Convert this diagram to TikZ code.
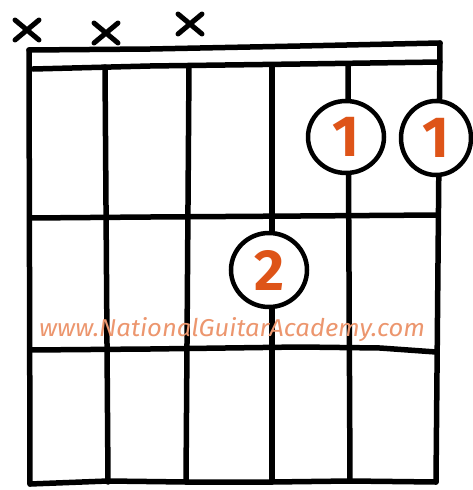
\documentclass[tikz,border=0pt]{standalone}
\usepackage{fontspec}
\usetikzlibrary{shapes.geometric}
\setmainfont{Fira Sans}
\definecolor{fing}{RGB}{222,84,24}
\definecolor{wm}{RGB}{236,150,110}
\begin{document}
\begin{tikzpicture}[x=1pt,y=-1pt,
  ink/.style={line width=5.5pt,line cap=round,line join=round,black},
  finger/.style={ellipse,draw=black,line width=4.5pt,fill=white,inner sep=0pt,
    text=fing,font=\fontsize{58}{58}\selectfont\bfseries},
  mute/.style={line width=5pt,line cap=round,black}]
\useasboundingbox (0,0) rectangle (472,490);
% string coordinates
\coordinate (n1) at (29,50);  \coordinate (b1) at (30,484);
\coordinate (n2) at (105,67); \coordinate (b2) at (108,482);
\coordinate (n3) at (189,66); \coordinate (b3) at (186,482);
\coordinate (n4) at (272,65); \coordinate (b4) at (272,482);
\coordinate (n5) at (348,64); \coordinate (b5) at (350,481);
\coordinate (n6) at (440,43); \coordinate (b6) at (436,482);
% nut
\draw[ink] (n1) -- (150,49) -- (300,46) -- (n6);
\draw[ink] (33,69) -- (150,66) -- (300,64) -- (440,62);
% frets
\draw[ink] (30,218) -- (150,217) -- (300,216) -- (438,215);
\draw[ink] (30,350) -- (150,349) -- (300,347) -- (380,348) -- (436,352);
\draw[ink] (b1) -- (108,481) -- (b3) -- (b4) -- (b5) -- (b6);
% strings
\draw[ink] (n1) -- (b1);
\draw[ink] (n2) -- (b2);
\draw[ink] (n3) -- (b3);
\draw[ink] (n4) -- (b4);
\draw[ink] (n5) -- (b5);
\draw[ink] (n6) -- (b6);
% mutes
\foreach \x/\y [count=\i] in {27/30,106/33,190/24}{
  \coordinate (m\i) at (\x,\y);
  \draw[mute] ([shift={(-12,-10)}]m\i) -- ([shift={(12,10)}]m\i);
  \draw[mute] ([shift={(-12,10)}]m\i) -- ([shift={(12,-10)}]m\i);
}
% fingers
\node[finger,minimum width=76pt,minimum height=72pt] (f5) at (346,137) {1};
\node[finger,minimum width=70pt,minimum height=74pt] (f6) at (436,138) {1};
\node[finger,minimum width=76pt,minimum height=74pt] (f4) at (269,270) {2};
% watermark
\node[text=wm,inner sep=0pt] (wmk) at (232,330) {\resizebox{386pt}{19pt}{\itshape www.NationalGuitarAcademy.com}};
\end{tikzpicture}
\end{document}
